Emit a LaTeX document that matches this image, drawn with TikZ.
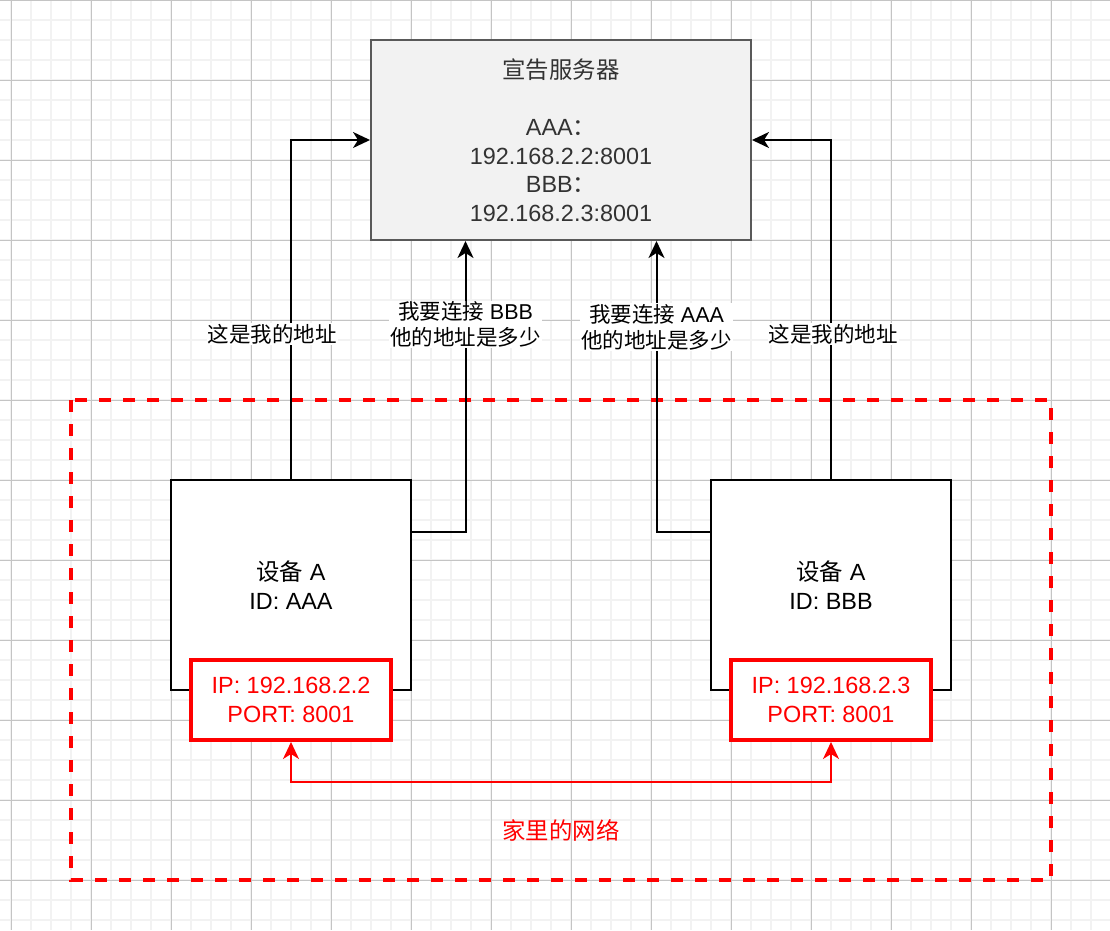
\documentclass[tikz,border=0pt]{standalone}
\usepackage{fontspec}
\setmainfont{Liberation Sans}
\newfontfamily\cjk{Noto Sans CJK SC}
\usetikzlibrary{arrows.meta,calc}
\definecolor{GridMinor}{HTML}{F2F2F2}
\definecolor{GridMajor}{HTML}{C4C4C4}
\definecolor{ServerFill}{HTML}{F2F2F2}
\definecolor{ServerLine}{HTML}{595959}
\definecolor{ServerText}{HTML}{333333}
\definecolor{NetRed}{HTML}{FF0000}

\begin{document}
\begin{tikzpicture}[x=1pt,y=-1pt,
    bigfont/.style={font=\fontsize{23.4}{28.5}\selectfont},
    server/.style={bigfont,draw=ServerLine,line width=2pt,fill=ServerFill,text=ServerText,
      minimum width=380pt,minimum height=200pt,align=center},
    device/.style={bigfont,draw,line width=2pt,fill=white,minimum width=240pt,minimum height=210pt,
      align=center},
    ipbox/.style={bigfont,draw=NetRed,line width=4pt,fill=white,text=NetRed,minimum width=200pt,
      minimum height=80pt,align=center},
    link/.style={line width=2pt,-{Stealth[length=17pt,width=16pt,inset=5pt]}},
    lanlink/.style={NetRed,line width=2pt,{Stealth[length=17pt,width=16pt,inset=5pt]}-{Stealth[length=17pt,width=16pt,inset=5pt]}},
    lbl/.style={fill=white,inner sep=1pt,align=center,font=\fontsize{21.5}{25.5}\selectfont}]
  \useasboundingbox (0,0) rectangle (1110,930);
  \fill[white] (0,0) rectangle (1110,930);
  \foreach \gx in {11,31,...,1091} \draw[GridMinor,line width=2pt] (\gx,0) -- (\gx,930);
  \foreach \gy in {20,40,...,920} \draw[GridMinor,line width=2pt] (0,\gy) -- (1110,\gy);
  \foreach \gx in {11,91,...,1091} \draw[GridMajor,line width=1pt] (\gx,0) -- (\gx,930);
  \foreach \gy in {0,80,...,880} \draw[GridMajor,line width=1pt] (0,\gy) -- (1110,\gy);

  \draw[NetRed,line width=4pt,dash pattern=on 12pt off 12pt] (71,400) rectangle (1051,880);

  \node[server] (server) at (561,140) {{\cjk 宣告服务器}\\[28.5pt]AAA{\cjk ：}\\192.168.2.2:8001\\BBB{\cjk ：}\\192.168.2.3:8001};
  \node[device] (devA) at (291,585) {{\cjk 设备} A\\ID: AAA};
  \node[device] (devB) at (831,585) {{\cjk 设备} A\\ID: BBB};
  \node[ipbox] (ipA) at (291,700) {IP: 192.168.2.2\\PORT: 8001};
  \node[ipbox] (ipB) at (831,700) {IP: 192.168.2.3\\PORT: 8001};
  \node[bigfont,text=NetRed] (home) at (561,830) {\cjk 家里的网络};

  \draw[link] (devA.north) |- (server.west)
    node[lbl,pos=0.214,xshift=-19pt] {\cjk 这是我的地址};
  \draw[link] ($(devA.north east)!0.25!(devA.south east)$) -| ($(server.south west)!0.25!(server.south east)$)
    node[lbl,pos=0.857] {{\cjk 我要连接} BBB\\\cjk 他的地址是多少};
  \draw[link] ($(devB.north west)!0.25!(devB.south west)$) -| ($(server.south west)!0.75!(server.south east)$)
    node[lbl,pos=0.852] {{\cjk 我要连接} AAA\\\cjk 他的地址是多少};
  \draw[link] (devB.north) |- (server.east)
    node[lbl,pos=0.214,xshift=2pt] {\cjk 这是我的地址};
  \draw[lanlink] (ipA.south) -- ++(0,40) -| (ipB.south);
\end{tikzpicture}
\end{document}
